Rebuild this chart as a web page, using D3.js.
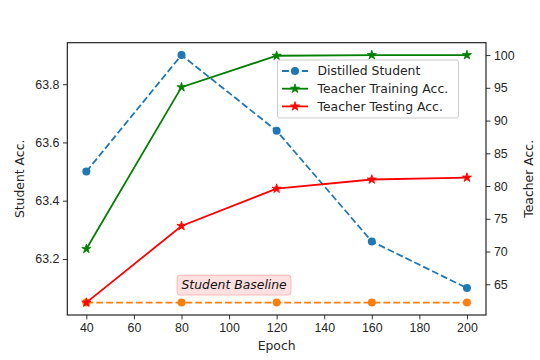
<!DOCTYPE html>
<html>
<head>
<meta charset="utf-8">
<script src="https://cdn.jsdelivr.net/npm/d3@7"></script>
<style>
  body { margin: 0; background: #fff; }
  svg { font-family: "DejaVu Sans", sans-serif; }
</style>
</head>
<body>
<svg id="chart"></svg>
<script>
// epochs and accuracies
const epochs = [40, 80, 120, 160, 200];
const studentAcc = [63.5, 63.9, 63.64, 63.26, 63.1];
const baselineAcc = [63.05, 63.05, 63.05, 63.05, 63.05];
const teacherTrain = [70.4, 95.1, 99.9, 100, 100];
const teacherTest = [62.2, 73.9, 79.6, 81.0, 81.3];
const xTicks = [40, 60, 80, 100, 120, 140, 160, 180, 200];
const leftTicks = [63.2, 63.4, 63.6, 63.8];
const rightTicks = [65, 70, 75, 80, 85, 90, 95, 100];

const W = 540, H = 360;
const margin = { top: 42.7, right: 54, bottom: 45, left: 67.3 };
const width = W - margin.left - margin.right;
const height = H - margin.top - margin.bottom;
const fs = "12.4px";

const svg = d3.select("#chart").attr("width", W).attr("height", H);
const g = svg.append("g").attr("transform", `translate(${margin.left},${margin.top})`);

// matplotlib style 5% margins
function padded(vals) {
  const [a, b] = d3.extent(vals);
  const m = (b - a) * 0.05;
  return [a - m, b + m];
}

const x = d3.scaleLinear().domain(padded(epochs)).range([0, width]);
const yL = d3.scaleLinear().domain(padded(studentAcc.concat(baselineAcc))).range([height, 0]);
const yR = d3.scaleLinear().domain(padded(teacherTrain.concat(teacherTest))).range([height, 0]);

// axes
const axX = g.append("g").attr("transform", `translate(0,${height})`)
  .call(d3.axisBottom(x).tickValues(xTicks).tickSize(4.4).tickPadding(3.5).tickFormat(d3.format("d")));
const axL = g.append("g")
  .call(d3.axisLeft(yL).tickValues(leftTicks).tickSize(4.4).tickPadding(3.5).tickFormat(d3.format(".1f")));
const axR = g.append("g").attr("transform", `translate(${width},0)`)
  .call(d3.axisRight(yR).tickValues(rightTicks).tickSize(4.4).tickPadding(3.5).tickFormat(d3.format("d")));
[axX, axL, axR].forEach(a => {
  a.select(".domain").remove();
  a.selectAll("text").style("font-size", fs).attr("fill", "#262626");
  a.selectAll("line").attr("stroke", "#333").attr("stroke-width", 1);
});

// axis labels
svg.append("text").attr("x", margin.left + width / 2).attr("y", 350)
  .attr("text-anchor", "middle").style("font-size", fs).attr("fill", "#262626").text("Epoch");
svg.append("text").attr("transform", `translate(23.5,${margin.top + height / 2}) rotate(-90)`)
  .attr("text-anchor", "middle").style("font-size", fs).attr("fill", "#262626").text("Student Acc.");
svg.append("text").attr("transform", `translate(532.5,${margin.top + height / 2}) rotate(-90)`)
  .attr("text-anchor", "middle").style("font-size", fs).attr("fill", "#262626").text("Teacher Acc.");

const dash = "6.9,3";
const star = d3.symbol().type(d3.symbolStar).size(26);

function drawSeries(vals, y, color, marker, dashed) {
  const line = d3.line().x((d, i) => x(epochs[i])).y(d => y(d));
  g.append("path").datum(vals)
    .attr("fill", "none").attr("stroke", color).attr("stroke-width", 1.8)
    .attr("stroke-dasharray", dashed ? dash : null).attr("d", line);
  vals.forEach((v, i) => {
    if (marker === "o") {
      g.append("circle").attr("cx", x(epochs[i])).attr("cy", y(v)).attr("r", 4).attr("fill", color);
    } else {
      g.append("path").attr("d", star)
        .attr("transform", `translate(${x(epochs[i])},${y(v)})`)
        .attr("fill", color).attr("stroke", color).attr("stroke-width", 0.8);
    }
  });
}

drawSeries(studentAcc, yL, "#1f77b4", "o", true);
drawSeries(baselineAcc, yL, "#ff7f0e", "o", true);
drawSeries(teacherTrain, yR, "#008000", "*", false);
drawSeries(teacherTest, yR, "#ff0000", "*", false);

// frame
g.append("rect").attr("width", width).attr("height", height)
  .attr("fill", "none").attr("stroke", "#111").attr("stroke-width", 1.1);

// baseline annotation, text anchored at epoch 80
const ann = g.append("g").attr("transform", `translate(${x(80)},${yL(63.05) - 17.5})`);
ann.append("rect").attr("x", -4.5).attr("y", -10).attr("width", 114).attr("height", 20).attr("rx", 3)
  .attr("fill", "rgba(255,0,0,0.12)").attr("stroke", "rgba(255,0,0,0.22)").attr("stroke-width", 1);
ann.append("text").attr("dy", "0.35em")
  .style("font-size", fs).style("font-style", "italic").attr("fill", "#111").text("Student Baseline");

// legend
const legendItems = [
  { name: "Distilled Student", color: "#1f77b4", marker: "o", dashed: true },
  { name: "Teacher Training Acc.", color: "#008000", marker: "*", dashed: false },
  { name: "Teacher Testing Acc.", color: "#ff0000", marker: "*", dashed: false }
];
const lg = svg.append("g").attr("transform", "translate(277.5,60)");
lg.append("rect").attr("width", 181).attr("height", 58).attr("rx", 2)
  .attr("fill", "rgba(255,255,255,0.8)").attr("stroke", "#ccc").attr("stroke-width", 1);
legendItems.forEach((d, i) => {
  const row = lg.append("g").attr("transform", `translate(0,${11 + i * 17.7})`);
  row.append("line").attr("x1", 4.5).attr("x2", 30.5).attr("stroke", d.color).attr("stroke-width", 1.8)
    .attr("stroke-dasharray", d.dashed ? dash : null);
  if (d.marker === "o") row.append("circle").attr("cx", 17.5).attr("r", 4).attr("fill", d.color);
  else row.append("path").attr("d", star).attr("transform", "translate(17.5,0)")
    .attr("fill", d.color).attr("stroke", d.color).attr("stroke-width", 0.8);
  row.append("text").attr("x", 40).attr("dy", "0.35em").style("font-size", fs)
    .attr("fill", "#262626").text(d.name);
});
</script>
</body>
</html>
